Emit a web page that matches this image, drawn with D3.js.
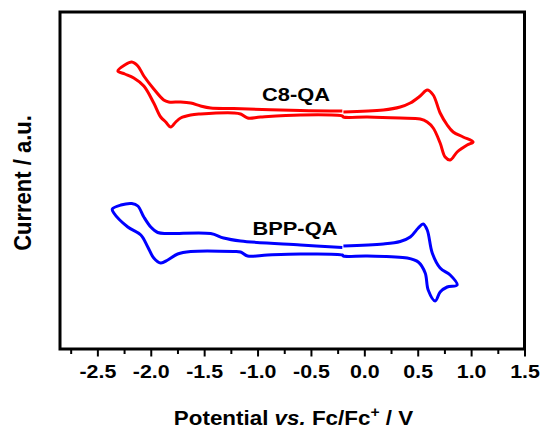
<!DOCTYPE html>
<html><head><meta charset="utf-8">
<script src="https://cdn.jsdelivr.net/npm/d3@7"></script>
<style>body{margin:0;background:#fff}svg{display:block}text{font-family:"Liberation Sans",Arial,sans-serif;font-weight:bold;fill:#000}</style>
</head><body><svg id="chart" width="544" height="433"></svg>
<script>
// Potential (V vs Fc/Fc+) and current (a.u.)
const c8V = [-0.196,0.178,0.336,0.430,0.523,0.589,0.645,0.710,0.776,0.832,0.925,1.019,0.963,0.869,0.804,0.757,0.710,0.645,0.589,0.523,0.336,0.028,-0.196,
  -0.206,-0.598,-0.972,-1.093,-1.159,-1.224,-1.533,-1.626,-1.720,-1.766,-1.813,-1.860,-1.907,-1.972,-2.065,-2.159,-2.243,-2.308,
  -2.243,-2.178,-2.121,-2.065,-1.972,-1.879,-1.832,-1.720,-1.626,-1.533,-1.439,-1.224,-0.598,-0.206];
const c8I = [23.7,23.9,24.2,24.6,25.3,25.9,25.4,23.6,22.4,21.7,21.2,20.7,20.4,19.7,18.9,19.2,20.6,22.1,22.7,23.0,23.1,23.2,23.2,
  23.3,23.4,23.2,23.1,23.5,23.6,23.5,23.4,23.1,22.7,22.2,22.7,23.2,24.6,26.3,27.1,27.5,27.8,
  28.4,28.7,28.3,27.3,26.0,24.9,24.7,24.7,24.6,24.3,24.1,24.05,23.85,23.8];
const bppV = [-0.196,0.178,0.336,0.430,0.505,0.551,0.589,0.636,0.710,0.804,0.869,0.776,0.710,0.664,0.598,0.570,0.505,0.402,0.028,-0.196,
  -0.206,-0.598,-0.907,-1.093,-1.159,-1.224,-1.626,-1.748,-1.841,-1.907,-1.972,-2.028,-2.093,-2.215,-2.346,-2.360,
  -2.280,-2.178,-2.121,-2.065,-2.000,-1.935,-1.841,-1.439,-1.318,-1.159,-0.598,-0.206];
const bppI = [10.3,10.5,10.75,11.2,12.1,12.5,11.9,9.6,8.1,7.4,6.4,6.2,5.7,4.8,5.9,7.6,8.7,9.1,9.3,9.3,
  9.4,9.5,9.4,9.3,9.7,9.75,9.75,9.5,8.9,8.6,9.1,10.2,11.4,12.2,13.6,14.0,
  14.4,14.55,14.3,13.2,12.2,11.65,11.55,11.55,11.1,10.8,10.4,10.15];
const seriesNames = ["C8-QA","BPP-QA"];
const seriesColors = ["#ff0000","#0000ff"];
const majorTicks = [-2.5,-2.0,-1.5,-1.0,-0.5,0.0,0.5,1.0,1.5];
const tickLabels = ["-2.5","-2.0","-1.5","-1.0","-0.5","0.0","0.5","1.0","1.5"];
const minorTicks = [-2.75,-2.25,-1.75,-1.25,-0.75,-0.25,0.25,0.75,1.25];
const labelPos = [[-0.64,24.8],[-0.65,11.4]]; // label anchor in data units

const svg = d3.select("#chart");
const x = d3.scaleLinear().domain([-2.85,1.5]).range([60,524.5]);
const y = d3.scaleLinear().domain([0,33.7]).range([349,12]);
const SX = 1.15;

// frame
svg.append("rect").attr("x",x(-2.85)).attr("y",y(33.7)).attr("width",x(1.5)-x(-2.85)).attr("height",y(0)-y(33.7))
  .attr("fill","none").attr("stroke","#000").attr("stroke-width",3);

// axes
const gMinor = svg.append("g").attr("transform",`translate(0,${y(0)})`)
  .call(d3.axisBottom(x).tickValues(minorTicks).tickSize(5).tickSizeOuter(0).tickFormat(""));
const gMajor = svg.append("g").attr("transform",`translate(0,${y(0)})`)
  .call(d3.axisBottom(x).tickValues(majorTicks).tickSize(7.5).tickSizeOuter(0).tickFormat((d,i)=>tickLabels[i]));
[gMinor,gMajor].forEach(g=>{g.select(".domain").remove();g.selectAll(".tick line").attr("stroke","#000").attr("stroke-width",2);});
gMajor.selectAll(".tick text").attr("y",0).attr("dy",null)
  .attr("transform",`translate(0,29) scale(${SX},1)`)
  .style("font-size","18.6px").style("font-family","'Liberation Sans',Arial,sans-serif").style("font-weight","bold");

// curves
const line = d3.line().x(d=>x(d[0])).y(d=>y(d[1])).curve(d3.curveCatmullRom.alpha(0.5));
const data = [d3.zip(c8V,c8I), d3.zip(bppV,bppI)];
data.forEach((pts,i)=>{
  svg.append("path").datum(pts).attr("d",line).attr("fill","none")
    .attr("stroke",seriesColors[i]).attr("stroke-width",3).attr("stroke-linejoin","round");
  svg.append("text").attr("transform",`translate(${x(labelPos[i][0])},${y(labelPos[i][1])}) scale(${SX},1)`)
    .attr("text-anchor","middle").style("font-size","19px").text(seriesNames[i]);
});

// axis titles
const xt = svg.append("text").attr("transform",`translate(293.5,425) scale(1.12,1)`).attr("text-anchor","middle").style("font-size","20px");
xt.append("tspan").text("Potential ");
xt.append("tspan").style("font-style","italic").text("vs.");
xt.append("tspan").text(" Fc/Fc");
xt.append("tspan").attr("dy",-8).style("font-size","14px").text("+");
xt.append("tspan").attr("dy",8).text(" / V");

svg.append("text").attr("transform",`translate(31,183) scale(1.1,1) rotate(-90)`).attr("text-anchor","middle")
  .style("font-size","22px").text("Current / a.u.");
</script></body></html>
